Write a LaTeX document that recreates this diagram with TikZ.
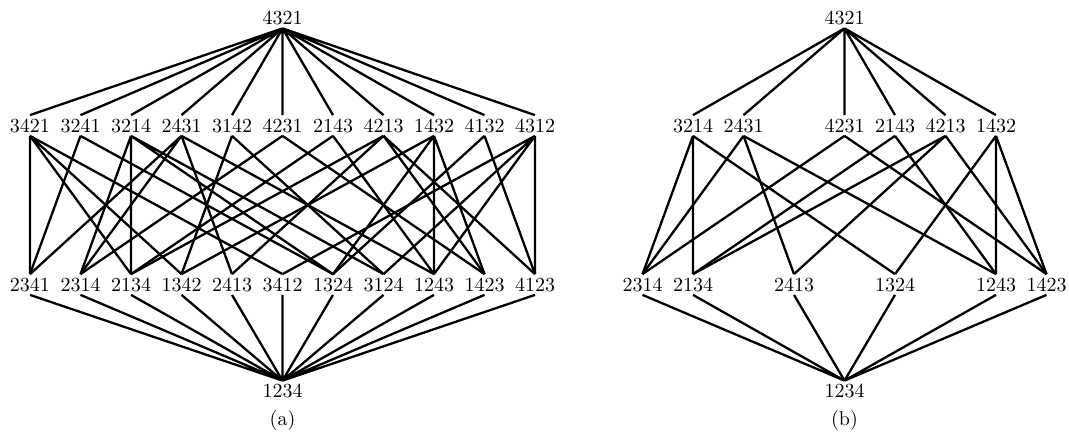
\documentclass[tikz,border=0pt]{standalone}

\begin{document}
\begin{tikzpicture}[x=0.5pt, y=0.5pt,
  perm/.style={inner sep=1.5pt},
  cover/.style={line width=1.15pt}]

\useasboundingbox (0,0) rectangle (1069,435);

% (a) the whole of S_4, ranked by number of descents
\node[perm] (a4321) at (282.5,417) {4321};

% two descents
\node[perm] (a3421) at (30,309.5) {3421};
\node[perm] (a3241) at (80.5,309.5) {3241};
\node[perm] (a3214) at (131,309.5) {3214};
\node[perm] (a2431) at (181.5,309.5) {2431};
\node[perm] (a3142) at (232,309.5) {3142};
\node[perm] (a4231) at (282.5,309.5) {4231};
\node[perm] (a2143) at (333,309.5) {2143};
\node[perm] (a4213) at (383.5,309.5) {4213};
\node[perm] (a1432) at (434,309.5) {1432};
\node[perm] (a4132) at (484.5,309.5) {4132};
\node[perm] (a4312) at (535,309.5) {4312};

% one descent
\node[perm] (a2341) at (30,150.5) {2341};
\node[perm] (a2314) at (80.5,150.5) {2314};
\node[perm] (a2134) at (131,150.5) {2134};
\node[perm] (a1342) at (181.5,150.5) {1342};
\node[perm] (a2413) at (232,150.5) {2413};
\node[perm] (a3412) at (282.5,150.5) {3412};
\node[perm] (a1324) at (333,150.5) {1324};
\node[perm] (a3124) at (383.5,150.5) {3124};
\node[perm] (a1243) at (434,150.5) {1243};
\node[perm] (a1423) at (484.5,150.5) {1423};
\node[perm] (a4123) at (535,150.5) {4123};

\node[perm] (a1234) at (282.5,44) {1234};
\node (capa) at (282.5,15) {(a)};

% top fan
\draw[cover] (a4321.south) -- (a3421.north) (a4321.south) -- (a3241.north)
  (a4321.south) -- (a3214.north) (a4321.south) -- (a2431.north)
  (a4321.south) -- (a3142.north) (a4321.south) -- (a4231.north)
  (a4321.south) -- (a2143.north) (a4321.south) -- (a4213.north)
  (a4321.south) -- (a1432.north) (a4321.south) -- (a4132.north)
  (a4321.south) -- (a4312.north);

% bottom fan
\draw[cover] (a2341.south) -- (a1234.north) (a2314.south) -- (a1234.north)
  (a2134.south) -- (a1234.north) (a1342.south) -- (a1234.north)
  (a2413.south) -- (a1234.north) (a3412.south) -- (a1234.north)
  (a1324.south) -- (a1234.north) (a3124.south) -- (a1234.north)
  (a1243.south) -- (a1234.north) (a1423.south) -- (a1234.north)
  (a4123.south) -- (a1234.north);

% shard intersections: rank 2 over rank 1
\draw[cover] (a3421.south) -- (a2341.north) (a3421.south) -- (a2134.north)
  (a3421.south) -- (a1342.north) (a3421.south) -- (a3412.north);
\draw[cover] (a3241.south) -- (a2341.north) (a3241.south) -- (a1324.north);
\draw[cover] (a3214.south) -- (a2314.north) (a3214.south) -- (a2134.north)
  (a3214.south) -- (a1324.north) (a3214.south) -- (a3124.north);
\draw[cover] (a2431.south) -- (a2341.north) (a2431.south) -- (a2314.north)
  (a2431.south) -- (a2413.north) (a2431.south) -- (a1243.north);
\draw[cover] (a3142.south) -- (a1342.north) (a3142.south) -- (a3124.north);
\draw[cover] (a4231.south) -- (a2314.north) (a4231.south) -- (a1423.north);
\draw[cover] (a2143.south) -- (a2134.north) (a2143.south) -- (a1243.north);
\draw[cover] (a4213.south) -- (a2134.north) (a4213.south) -- (a2413.north)
  (a4213.south) -- (a1423.north) (a4213.south) -- (a4123.north);
\draw[cover] (a1432.south) -- (a1342.north) (a1432.south) -- (a1324.north)
  (a1432.south) -- (a1243.north) (a1432.south) -- (a1423.north);
\draw[cover] (a4132.south) -- (a1324.north) (a4132.south) -- (a4123.north);
\draw[cover] (a4312.south) -- (a3412.north) (a4312.south) -- (a3124.north)
  (a4312.south) -- (a1243.north) (a4312.south) -- (a4123.north);

% (b) the noncrossing part
\node[perm] (b4321) at (844.5,417) {4321};

\node[perm] (b3214) at (693,309.5) {3214};
\node[perm] (b2431) at (743.5,309.5) {2431};
\node[perm] (b4231) at (844.5,309.5) {4231};
\node[perm] (b2143) at (895,309.5) {2143};
\node[perm] (b4213) at (945.5,309.5) {4213};
\node[perm] (b1432) at (996,309.5) {1432};

\node[perm] (b2314) at (642.5,150.5) {2314};
\node[perm] (b2134) at (693,150.5) {2134};
\node[perm] (b2413) at (794,150.5) {2413};
\node[perm] (b1324) at (895,150.5) {1324};
\node[perm] (b1243) at (996,150.5) {1243};
\node[perm] (b1423) at (1046.5,150.5) {1423};

\node[perm] (b1234) at (844.5,44) {1234};
\node (capb) at (844.5,15) {(b)};

\draw[cover] (b4321.south) -- (b3214.north) (b4321.south) -- (b2431.north)
  (b4321.south) -- (b4231.north) (b4321.south) -- (b2143.north)
  (b4321.south) -- (b4213.north) (b4321.south) -- (b1432.north);
\draw[cover] (b2314.south) -- (b1234.north) (b2134.south) -- (b1234.north)
  (b2413.south) -- (b1234.north) (b1324.south) -- (b1234.north)
  (b1243.south) -- (b1234.north) (b1423.south) -- (b1234.north);

\draw[cover] (b3214.south) -- (b2314.north) (b3214.south) -- (b2134.north)
  (b3214.south) -- (b1324.north);
\draw[cover] (b2431.south) -- (b2314.north) (b2431.south) -- (b2413.north)
  (b2431.south) -- (b1243.north);
\draw[cover] (b4231.south) -- (b2314.north) (b4231.south) -- (b1423.north);
\draw[cover] (b2143.south) -- (b2134.north) (b2143.south) -- (b1243.north);
\draw[cover] (b4213.south) -- (b2134.north) (b4213.south) -- (b2413.north)
  (b4213.south) -- (b1423.north);
\draw[cover] (b1432.south) -- (b1324.north) (b1432.south) -- (b1243.north)
  (b1432.south) -- (b1423.north);

\end{tikzpicture}
\end{document}
